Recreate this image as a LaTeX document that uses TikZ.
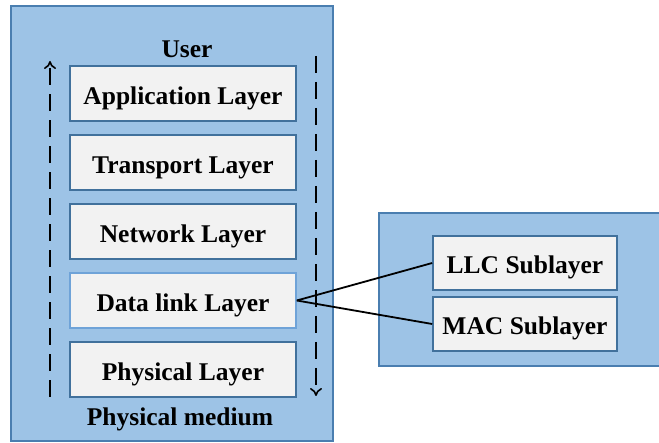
\documentclass[tikz,border=0pt]{standalone}
\usepackage{fontspec}
\setmainfont{Liberation Serif}
\usetikzlibrary{arrows.meta}
\definecolor{panelfill}{HTML}{9DC3E6}
\definecolor{paneledge}{HTML}{4A7EB0}
\definecolor{boxfill}{HTML}{F2F2F2}
\definecolor{boxedge}{HTML}{41719C}
\definecolor{boxedgelight}{HTML}{6FA3D8}
\begin{document}
\begin{tikzpicture}[x=1pt,y=-1pt,
  txt/.style={font=\fontsize{25.5}{30}\selectfont\bfseries},
  panel/.style={draw=paneledge,fill=panelfill,line width=1.6pt},
  layerbox/.style={txt,draw=boxedge,fill=boxfill,line width=1.6pt,minimum width=226pt,minimum height=55pt,inner sep=0pt,text height=23pt,text depth=0pt},
  subbox/.style={txt,draw=boxedge,fill=boxfill,line width=1.6pt,minimum width=184pt,minimum height=54pt,inner sep=0pt,text height=21pt,text depth=0pt},
  lbl/.style={txt,inner sep=0pt,anchor=base},
  flow/.style={line width=2pt,dash pattern=on 17pt off 9pt,-{To[length=8pt,width=12pt,line width=1.6pt]}},
  link/.style={line width=1.8pt}]
\useasboundingbox (0,0) rectangle (659,443);
\draw[panel] (11,6) rectangle (333,441);
\draw[panel] (379,213) rectangle (670,366);
\node[lbl] (user) at (187,58) {User};
\node[lbl] (medium) at (180,426) {Physical medium};
\node[layerbox] (app) at (183,93.5) {Application Layer};
\node[layerbox] (trans) at (183,162.5) {Transport Layer};
\node[layerbox] (net) at (183,231.5) {Network Layer};
\node[layerbox,draw=boxedgelight] (dl) at (183,300.5) {Data link Layer};
\node[layerbox] (phys) at (183,369.5) {Physical Layer};
\node[subbox] (llc) at (525,263) {LLC Sublayer};
\node[subbox] (mac) at (525,324) {MAC Sublayer};
\coordinate (upS) at (50,397);
\coordinate (upE) at (50,61);
\coordinate (dnS) at (316,56);
\coordinate (dnE) at (316,396);
\draw[flow] (upS) -- (upE);
\draw[flow] (dnS) -- (dnE);
\draw[link] (dl.east) -- (llc.west);
\draw[link] (dl.east) -- (mac.west);
\end{tikzpicture}
\end{document}
